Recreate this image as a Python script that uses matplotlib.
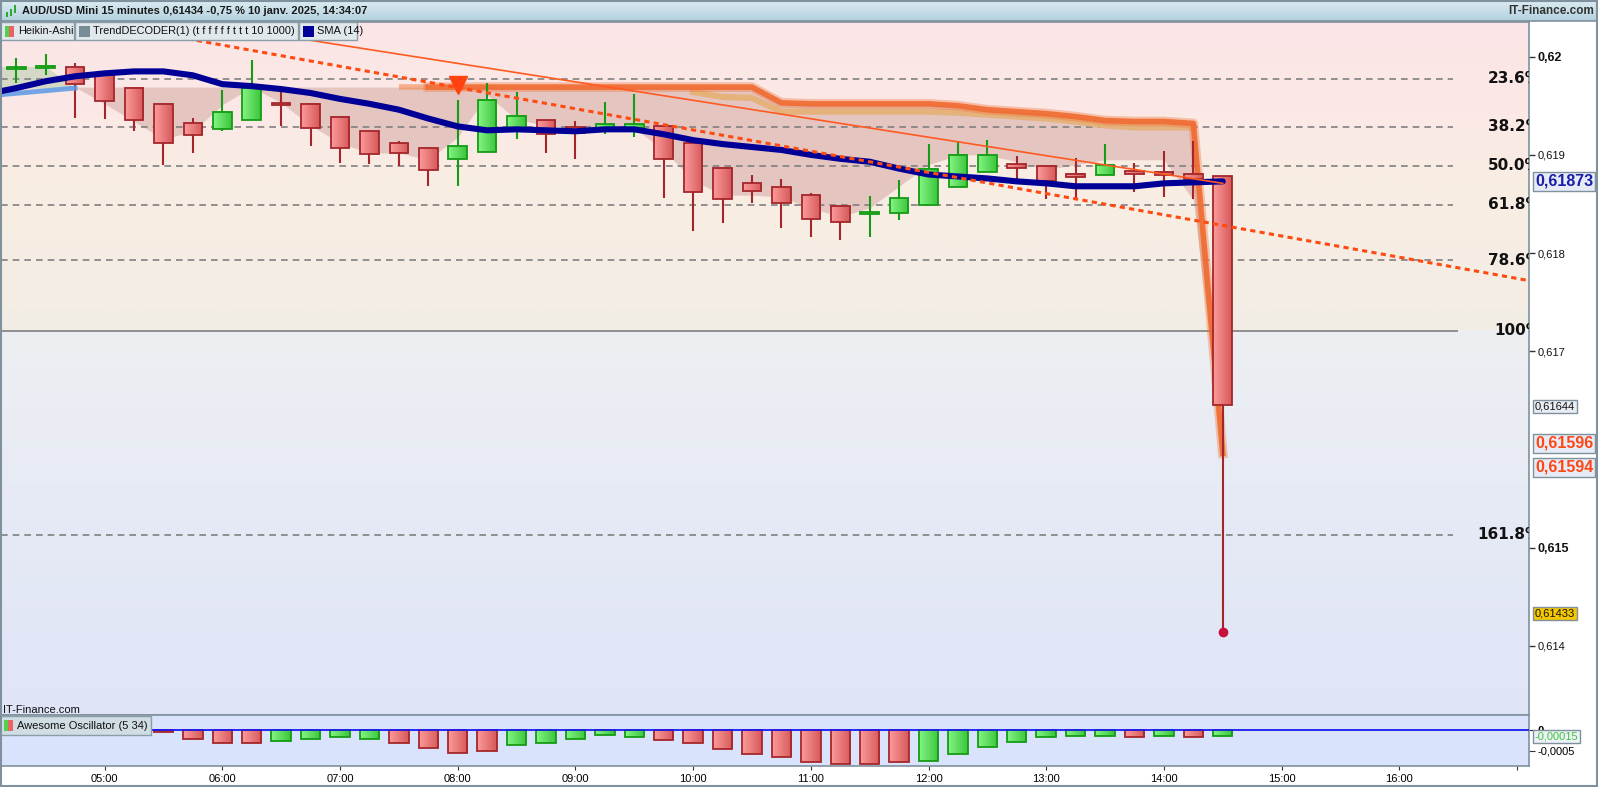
import numpy as np
import matplotlib
matplotlib.use('Agg')
import matplotlib.pyplot as plt
import matplotlib.transforms as mtransforms
from matplotlib.patches import Rectangle
from matplotlib.colors import to_rgb

plt.rcParams['font.family'] = ['Liberation Sans', 'DejaVu Sans']

W, H = 1598, 787

# Heikin-Ashi 15 min candles, 04:15 .. 14:30 (hours)
t = 4.25 + 0.25 * np.arange(42)
ha_open = [0.61987, 0.61988, 0.61989, 0.61983, 0.61968, 0.61952, 0.61932, 0.61926, 0.61935, 0.61953,
           0.61952, 0.61939, 0.61924, 0.61912, 0.61907, 0.61896, 0.61903, 0.61924, 0.61935, 0.61928,
           0.61925, 0.61927, 0.61929, 0.61912, 0.61887, 0.61871, 0.61867, 0.61859, 0.61848, 0.61840,
           0.61841, 0.61849, 0.61867, 0.61883, 0.61891, 0.61889, 0.61881, 0.61879, 0.61884, 0.61883,
           0.61881, 0.61878]
ha_close = [0.61989, 0.61991, 0.61972, 0.61955, 0.61935, 0.61912, 0.61920, 0.61944, 0.61968, 0.61951,
            0.61927, 0.61907, 0.61901, 0.61902, 0.61885, 0.61909, 0.61956, 0.61940, 0.61921, 0.61922,
            0.61931, 0.61931, 0.61896, 0.61862, 0.61855, 0.61863, 0.61851, 0.61835, 0.61832, 0.61842,
            0.61856, 0.61886, 0.61900, 0.61900, 0.61887, 0.61873, 0.61877, 0.61890, 0.61881, 0.61879,
            0.61875, 0.61645]
ha_high = [0.61999, 0.62003, 0.61994, 0.61983, 0.61968, 0.61952, 0.61938, 0.61966, 0.61997, 0.61966,
           0.61952, 0.61939, 0.61924, 0.61914, 0.61907, 0.61956, 0.61973, 0.61964, 0.61935, 0.61934,
           0.61954, 0.61962, 0.61929, 0.61912, 0.61887, 0.61879, 0.61875, 0.61861, 0.61848, 0.61858,
           0.61874, 0.61911, 0.61913, 0.61915, 0.61899, 0.61889, 0.61897, 0.61911, 0.61892, 0.61904,
           0.61914, 0.61878]
ha_low = [0.61973, 0.61981, 0.61938, 0.61937, 0.61924, 0.61890, 0.61902, 0.61924, 0.61935, 0.61929,
          0.61909, 0.61892, 0.61891, 0.61889, 0.61868, 0.61868, 0.61903, 0.61916, 0.61902, 0.61896,
          0.61921, 0.61918, 0.61856, 0.61822, 0.61831, 0.61851, 0.61826, 0.61816, 0.61813, 0.61816,
          0.61834, 0.61849, 0.61867, 0.61883, 0.61875, 0.61855, 0.61855, 0.61879, 0.61862, 0.61857,
          0.61855, 0.61414]

# SMA(14), first point at 04:00 then at every candle
sma_t = np.concatenate([[4.0], t])
sma = [0.61962, 0.61968, 0.61975, 0.61980, 0.61983, 0.61985, 0.61985, 0.61981, 0.61972, 0.61970, 0.61967,
       0.61963, 0.61957, 0.61952, 0.61946, 0.61937, 0.61929, 0.61925, 0.61926, 0.61925, 0.61924,
       0.61926, 0.61926, 0.61921, 0.61915, 0.61911, 0.61908, 0.61905, 0.61900, 0.61896, 0.61893,
       0.61886, 0.61880, 0.61878, 0.61876, 0.61873, 0.61871, 0.61868, 0.61868, 0.61868, 0.61871,
       0.61872, 0.61873]

# TrendDECODER stop level and shaded zone (candles 3..42)
stop = [0.61969] * 24 + [0.61953] + [0.61952] * 5 + [0.61950, 0.61946, 0.61944, 0.61942, 0.61939,
                                                      0.61935, 0.61934, 0.61934, 0.61932, 0.61596]
zone_low = [0.61969, 0.61952, 0.61934, 0.61916, 0.61924, 0.61951, 0.61969, 0.61953, 0.61930, 0.61912,
            0.61902, 0.61902, 0.61895, 0.61918, 0.61961, 0.61936, 0.61930, 0.61927, 0.61928, 0.61927,
            0.61905, 0.61874, 0.61859, 0.61859, 0.61857, 0.61846, 0.61837, 0.61846, 0.61868, 0.61890,
            0.61900, 0.61900, 0.61893, 0.61885, 0.61890, 0.61895, 0.61895, 0.61895, 0.61854, 0.61596]
# second (tan) stop, candles 24..41
stop2 = [0.61964, 0.61959, 0.61958, 0.61944] + [0.61944] * 5 + [0.61943, 0.61941, 0.61939, 0.61937,
                                                               0.61934, 0.61930, 0.61928, 0.61928, 0.61928]
green_zone_t = [4.0, 4.5, 4.75]
green_zone_top = [0.61990, 0.61990, 0.61968]
green_zone_low = [0.61968, 0.61968, 0.61968]
blue_line_t = [4.0, 4.75]
blue_line = [0.61960, 0.61968]

signal_t, signal_p = 8.0, 0.61971
dashed_pts = [(5.667, 0.62019), (17.1, 0.61772)]
solid_pts = [(5.667, 0.62037), (14.5, 0.61871)]

fib_0, fib_100 = 0.62057, 0.61721
fib_levels = [0.236, 0.382, 0.5, 0.618, 0.786, 1.0, 1.618]
fib_labels = ['23.6%', '38.2%', '50.0%', '61.8%', '78.6%', '100%', '161.8%']

# Awesome Oscillator, candles 6..42
ao = [-0.00005, -0.00021, -0.00032, -0.00032, -0.00026, -0.00023, -0.00018, -0.00023, -0.00032, -0.00044,
      -0.00056, -0.00051, -0.00037, -0.00032, -0.00022, -0.00013, -0.00018, -0.00025, -0.00032, -0.00047,
      -0.00059, -0.00066, -0.00078, -0.00083, -0.00083, -0.00078, -0.00075, -0.00059, -0.00042, -0.00030,
      -0.00018, -0.00015, -0.00015, -0.00018, -0.00015, -0.00018, -0.00015]
ao_up = 'rrrrggggrrrrgggggrrrrrrrrrgggggggrgrg'

hour_ticks = list(range(5, 18))
hour_labels = ['%02d:00' % h for h in range(5, 17)] + ['']

GREEN_E, RED_E = '#159b15', '#a4262b'
GREEN_G = ('#84f484', '#3cc63c')
RED_G = ('#fc9a9a', '#d65a5a')
BORDER = '#7f919c'

fig = plt.figure(figsize=(W / 100, H / 100), dpi=100)
fig.patch.set_facecolor('white')

xlim = (4.1198, 17.1019)
ylim = (0.613296, 0.620353)

ax = fig.add_axes([1 / W, 1 - 715 / H, 1528 / W, 693 / H])


def grad(a, y0, y1, stops, x0=xlim[0], x1=xlim[1]):
    fr = np.linspace(0, 1, 200)
    pos = [s[0] for s in stops]
    cols = np.array([to_rgb(s[1]) for s in stops])
    img = np.stack([np.interp(fr, pos, cols[:, k]) for k in range(3)], axis=1)[:, None, :]
    a.imshow(img, extent=(x0, x1, y0, y1), origin='upper', aspect='auto',
             interpolation='bilinear', zorder=0)


def hbars(a, xs, lo, hi, w, cols, edges, z):
    # bodies with a left-to-right shading, as in the platform
    for x, b0, b1, cg, e in zip(xs, lo, hi, cols, edges):
        c0, c1 = np.array(to_rgb(cg[0])), np.array(to_rgb(cg[1]))
        img = (c0[None, :] + np.linspace(0, 1, 24)[:, None] * (c1 - c0)[None, :])[None, :, :]
        a.imshow(img, extent=(x - w / 2, x + w / 2, b0, b1), aspect='auto',
                 interpolation='bilinear', zorder=z)
        a.add_patch(Rectangle((x - w / 2, b0), w, b1 - b0, fill=False, ec=e, lw=1.3, zorder=z + 0.05))


grad(ax, fib_100, ylim[1], [(0, '#fce5e7'), (0.3, '#fbe9e6'), (0.5, '#f9ede3'), (1, '#f2ede5')])
grad(ax, ylim[0], fib_100, [(0, '#edeff2'), (1, '#dfe5f8')])

# fib levels
rng = fib_0 - fib_100
fib_prices = [fib_0 - r * rng for r in fib_levels]
for r, p in zip(fib_levels, fib_prices):
    if r == 1.0:
        ax.hlines(p, xlim[0], 16.5, color='#808080', lw=1.2, zorder=1.5)
    else:
        ax.hlines(p, xlim[0], 16.46, color='#808080', lw=1.2, linestyles=(0, (4, 3)), zorder=1.5)
trans = mtransforms.blended_transform_factory(ax.transAxes, ax.transData)
for lab, p in zip(fib_labels, fib_prices):
    ax.text(1 + 12 / 1528, p, lab, transform=trans, ha='right', va='center', fontsize=11,
            fontweight='bold', family='DejaVu Sans', color='#111111', clip_on=True, zorder=6)

# TrendDECODER zones
ax.fill_between(green_zone_t, green_zone_low, green_zone_top, color='#d3d9c4', lw=0, zorder=1)
ax.fill_between(t[2:], zone_low, stop, color='#e4c5c0', lw=0, zorder=1)
ax.plot(t[23:41], stop2, color='#e6b27c', lw=4.5, zorder=2)
ax.plot(t[13:15], stop[11:13], color='#f4874f', lw=4, alpha=0.6, zorder=2.1, solid_capstyle='butt')
ax.plot(t[14:], stop[12:], color='#f06e33', lw=7, alpha=0.35, zorder=2.1)
ax.plot(t[14:], stop[12:], color='#f06a30', lw=4, alpha=0.9, zorder=2.2)
ax.plot(signal_t, signal_p, marker='v', ms=13, color='#ff4210', mec='#ff4210', zorder=5)

# trend lines
ax.axline(dashed_pts[0], dashed_pts[1], color='#ff4a12', lw=2.2, ls=(0, (1.7, 1.4)), zorder=4.5)
ax.plot([p[0] for p in solid_pts], [p[1] for p in solid_pts], color='#ff5a20', lw=1.2, zorder=4.4)

# light blue line + SMA
ax.plot(blue_line_t, blue_line, color='#5b9ae6', lw=3.5, alpha=0.85, zorder=3.5)
ax.plot(sma_t, sma, color='#000096', lw=4.4, solid_capstyle='round', zorder=4)

# Heikin-Ashi candles
o = np.array(ha_open)
c = np.array(ha_close)
up = c >= o
edge = np.where(up, GREEN_E, RED_E)
ax.vlines(t, ha_low, ha_high, colors=edge, lw=1.5, zorder=3)
body_lo = np.minimum(o, c)
body_hi = body_lo + np.maximum(np.abs(c - o), 0.00002)
hbars(ax, t, body_lo, body_hi, 0.158, [GREEN_G if u else RED_G for u in up], edge, 3.2)
ax.plot(t[-1], ha_low[-1], 'o', ms=6, color='#c8103c', zorder=5)

ax.set_xlim(*xlim)
ax.set_ylim(*ylim)
ax.set_xticks([])
ax.yaxis.tick_right()
yt = [0.614, 0.615, 0.617, 0.618, 0.619, 0.62]
ax.set_yticks(yt)
ax.set_yticklabels([('%g' % v).replace('.', ',') for v in yt])
for lab, v in zip(ax.get_yticklabels(), yt):
    if abs(v * 1000 - round(v * 1000 / 5) * 5) < 1e-6:
        lab.set_fontweight('bold')
        lab.set_fontsize(9)
    else:
        lab.set_fontsize(8)
ax.tick_params(axis='y', length=4, width=1, color='#333333', pad=2, labelcolor='#111111')
for s in ax.spines.values():
    s.set_color(BORDER)
    s.set_linewidth(1.2)


def value_box(p, s, color, size, weight, fc, dy=0):
    tr = mtransforms.offset_copy(trans, fig=fig, x=0, y=dy, units='dots')
    ax.text(1 + 6 / 1528, p, s, transform=tr, ha='left', va='center', color=color, fontsize=size,
            fontweight=weight, clip_on=False, zorder=10,
            bbox=dict(boxstyle='square,pad=0.14', fc=fc, ec=BORDER, lw=1))


value_box(0.61873, '0,61873', '#1a1ea8', 11.5, 'bold', '#e6ebf6')
value_box(0.61644, '0,61644', '#111111', 8, 'normal', '#e8edf4')
value_box(0.61596, '0,61596', '#ff4614', 11.5, 'bold', '#e6ebf6', dy=10)
value_box(0.61594, '0,61594', '#ff4614', 11.5, 'bold', '#e6ebf6', dy=-12)
value_box(0.61433, '0,61433', '#111111', 8, 'normal', '#f5c800')

ax.text(0.001, 0.0, 'IT-Finance.com', transform=ax.transAxes, ha='left', va='bottom', fontsize=8,
        color='#111111', zorder=10)

# Awesome oscillator panel
ax_o = fig.add_axes([1 / W, 1 - 766 / H, 1528 / W, 51 / H])
ax_o.set_facecolor('#d9e3fb')
ao_e = [GREEN_E if u == 'g' else RED_E for u in ao_up]
hbars(ax_o, t[5:], ao, [0.0] * len(ao), 0.165, [GREEN_G if u == 'g' else RED_G for u in ao_up], ao_e, 3)
ax_o.axhline(0, color='#1a1aee', lw=1.3, zorder=4)
ax_o.set_xlim(*xlim)
ax_o.set_ylim(-0.00087, 0.00036)
ax_o.yaxis.tick_right()
ax_o.set_yticks([0, -0.0005])
ax_o.set_yticklabels(['0', '-0,0005'])
ax_o.get_yticklabels()[0].set_fontweight('bold')
ax_o.tick_params(axis='y', length=4, color='#333333', pad=2, labelsize=8)
ax_o.set_xticks(hour_ticks)
ax_o.set_xticklabels(hour_labels)
ax_o.tick_params(axis='x', direction='out', length=3, color='#333333', pad=3, labelsize=8)
for s in ax_o.spines.values():
    s.set_color(BORDER)
    s.set_linewidth(1.2)
trans_o = mtransforms.blended_transform_factory(ax_o.transAxes, ax_o.transData)
ax_o.text(1 + 6 / 1528, ao[-1], '-0,00015', transform=trans_o, ha='left', va='center', color='#3cc43c',
          fontsize=8, clip_on=False, zorder=10,
          bbox=dict(boxstyle='square,pad=0.14', fc='#eef2f8', ec=BORDER, lw=1))


# header, legends, frame (pixel helpers)
def rect(x0, y0, x1, y1, **kw):
    fig.add_artist(Rectangle((x0 / W, 1 - y1 / H), (x1 - x0) / W, (y1 - y0) / H,
                             transform=fig.transFigure, **kw))


def ftext(x, y, s, **kw):
    fig.text(x / W, 1 - y / H, s, va='center', **kw)


tb = fig.add_axes([0, 1 - 21 / H, 1, 21 / H])
tb.imshow(np.stack([np.linspace(a, b, 50) for a, b in zip(to_rgb('#dcecf3'), to_rgb('#b3d1df'))],
                   axis=1)[:, None, :], aspect='auto', extent=(0, 1, 0, 1))
tb.set_axis_off()
rect(0, 0, W, 21, fill=False, ec=BORDER, lw=1.2)
for i, (yy0, yy1) in enumerate([(12, 17), (9, 16), (5, 13)]):
    rect(6 + i * 4, yy0, 8 + i * 4, yy1, fc='#2ea82e', ec='none')
ftext(22, 11, 'AUD/USD Mini 15 minutes 0,61434 -0,75 % 10 janv. 2025, 14:34:07', fontsize=8,
      fontweight='bold', color='#1a1a1a')
ftext(1594, 11, 'IT-Finance.com', fontsize=8.5, fontweight='bold', color='#333333', ha='right')

legend_boxes = [(0, 74, 'Heikin-Ashi', 'ha', 7.8),
                (75, 298, 'TrendDECODER(1) (t f f f f f t t t 10 1000)', '#788c96', 7.9),
                (299, 357, 'SMA (14)', '#000096', 8)]
for x0, x1, lab, icon, fs in legend_boxes:
    rect(x0, 22, x1, 40, fc='#e1e8ec', ec='#8a9ea8', lw=1, zorder=20)
    if icon == 'ha':
        rect(x0 + 5, 26, x0 + 9, 37, fc='#4fd24f', ec='none', zorder=21)
        rect(x0 + 9, 26, x0 + 14, 37, fc='#ea6464', ec='none', zorder=21)
    else:
        rect(x0 + 4, 26, x0 + 15, 37, fc=icon, ec='none', zorder=21)
    ftext(x0 + 18, 31.5, lab, fontsize=fs, color='#111111', zorder=22)

rect(0, 716, 151, 735, fc='#d0dde2', ec='#8a9ea8', lw=1, zorder=20)
rect(4, 720, 8, 731, fc='#4fd24f', ec='none', zorder=21)
rect(8, 720, 13, 731, fc='#ea6464', ec='none', zorder=21)
ftext(17, 726, 'Awesome Oscillator (5 34)', fontsize=8, color='#111111', zorder=22)

rect(0.5, 0.5, W - 1, H - 1, fill=False, ec=BORDER, lw=1.5, zorder=30)

fig.savefig('out.png', dpi=100)
